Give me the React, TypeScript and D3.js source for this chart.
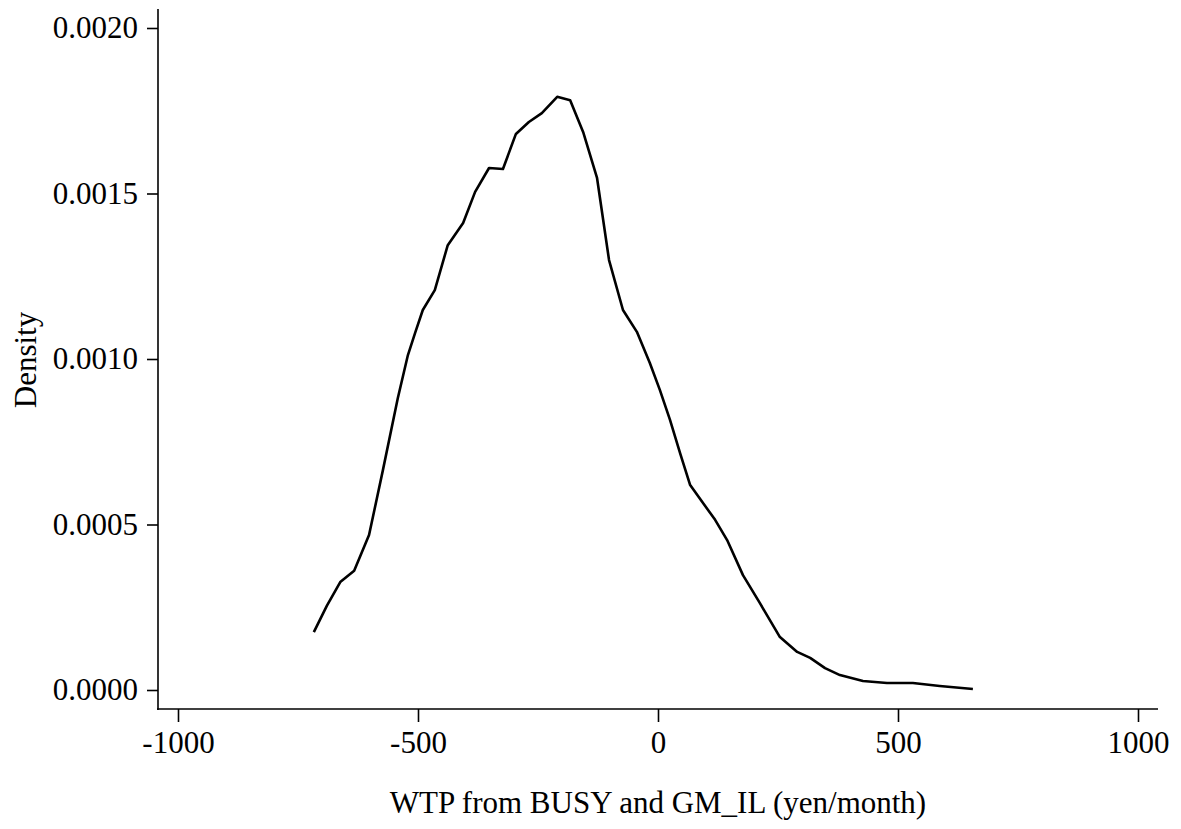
import React, { useEffect, useRef } from "react";
import * as d3 from "d3";

// kernel density estimate
const wtpValues = [
  -717, -690, -662, -633, -602, -573, -542, -521, -506, -490, -465, -438, -406,
  -381, -352, -323, -296, -269, -242, -210, -183, -156, -127, -102, -73, -44,
  -17, 4, 25, 46, 67, 119, 144, 177, 212, 254, 290, 317, 348, 379, 427, 477,
  531, 587, 656,
];
const densityValues = [
  0.000175, 0.000254, 0.000326, 0.00036, 0.000468, 0.000665, 0.000882,
  0.001012, 0.001079, 0.001148, 0.001208, 0.001344, 0.001411, 0.001505,
  0.001577, 0.001574, 0.00168, 0.001716, 0.001743, 0.001792, 0.001782,
  0.001686, 0.001547, 0.001299, 0.001148, 0.001082, 0.000988, 0.000906,
  0.000816, 0.000716, 0.000619, 0.000514, 0.000453, 0.000347, 0.000263,
  0.00016, 0.000115, 0.000097, 0.000066, 0.000045, 0.000027, 0.000021,
  0.000021, 0.000012, 0.000003,
];
const xTicks = [-1000, -500, 0, 500, 1000];
const yTicks = [0, 0.0005, 0.001, 0.0015, 0.002];

const W = 1181;
const H = 829;
const FONT = "'Liberation Serif', 'Times New Roman', serif";
const FS = 31;

export default function App() {
  const ref = useRef<SVGSVGElement>(null);

  useEffect(() => {
    const svg = d3.select(ref.current);
    svg.selectAll("*").remove();

    const x = d3.scaleLinear().domain([-1000, 1000]).range([178, 1138]);
    const y = d3.scaleLinear().domain([0, 0.002]).range([690, 28]);

    // axis lines
    svg.append("line")
      .attr("x1", 158).attr("x2", 158).attr("y1", 9).attr("y2", 710)
      .attr("stroke", "#000").attr("stroke-width", 1.6);
    svg.append("line")
      .attr("x1", 157).attr("x2", 1158).attr("y1", 709).attr("y2", 709)
      .attr("stroke", "#000").attr("stroke-width", 1.6);

    // y axis
    const ya = svg.append("g")
      .attr("transform", "translate(158,0)")
      .call(d3.axisLeft(y).tickValues(yTicks).tickSize(11).tickPadding(9)
        .tickFormat((d) => (+d).toFixed(4)));
    ya.select(".domain").remove();
    ya.selectAll("line").attr("stroke-width", 1.6);
    ya.selectAll("text").attr("font-family", FONT).attr("font-size", FS).attr("fill", "#000");

    // x axis
    const xa = svg.append("g")
      .attr("transform", "translate(0,709)")
      .call(d3.axisBottom(x).tickValues(xTicks).tickSize(13).tickPadding(9)
        .tickFormat((d) => String(d)));
    xa.select(".domain").remove();
    xa.selectAll("line").attr("stroke-width", 1.6);
    xa.selectAll("text").attr("font-family", FONT).attr("font-size", FS).attr("fill", "#000");

    // density line
    const pts = wtpValues.map((v, i) => [v, densityValues[i]] as [number, number]);
    const line = d3.line<[number, number]>()
      .x((d) => x(d[0]))
      .y((d) => y(d[1]));
    svg.append("path")
      .datum(pts)
      .attr("d", line)
      .attr("fill", "none")
      .attr("stroke", "#000")
      .attr("stroke-width", 2.6)
      .attr("stroke-linejoin", "round");

    // titles
    svg.append("text")
      .attr("x", 658).attr("y", 813)
      .attr("text-anchor", "middle")
      .attr("font-family", FONT).attr("font-size", FS)
      .text("WTP from BUSY and GM_IL (yen/month)");
    svg.append("text")
      .attr("transform", "translate(36,360) rotate(-90)")
      .attr("text-anchor", "middle")
      .attr("font-family", FONT).attr("font-size", FS)
      .text("Density");
  }, []);

  return (
    <svg
      ref={ref}
      width={W}
      height={H}
      style={{ position: "absolute", left: 0, top: 0, background: "#fff" }}
    />
  );
}
